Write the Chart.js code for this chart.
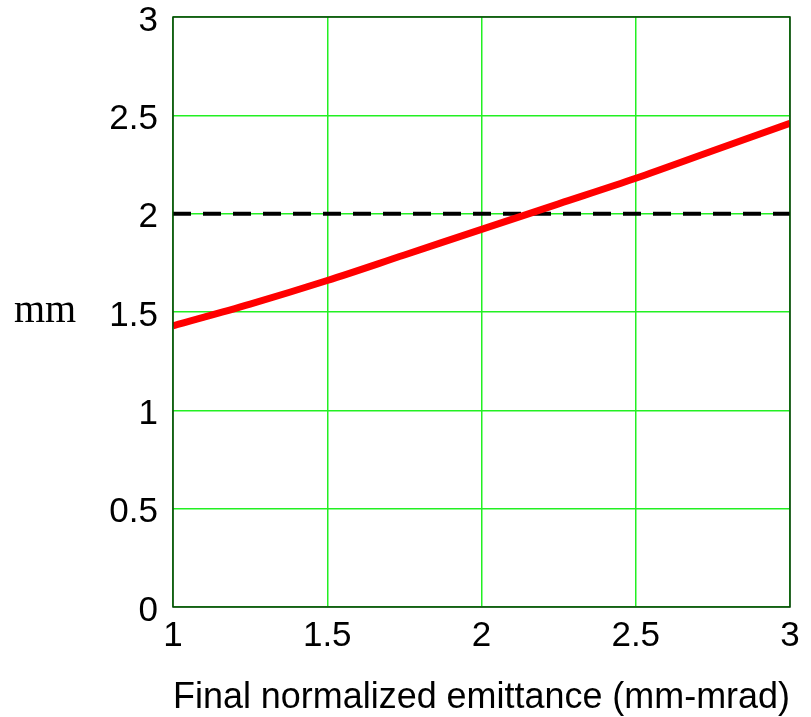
<!DOCTYPE html>
<html>
<head>
<meta charset="utf-8">
<script src="https://cdn.jsdelivr.net/npm/chart.js@4/dist/chart.umd.min.js"></script>
<style>
  html, body { margin: 0; padding: 0; background: #fff; }
  #wrap { width: 811px; height: 717px; }
</style>
</head>
<body>
<div id="wrap"><canvas id="mainChart" width="811" height="717"></canvas></div>
<script>
// beam size vs. emittance
var emittance = [1, 1.25, 1.5, 1.75, 2, 2.25, 2.5, 2.75, 3];
var beamSize = [1.43, 1.54, 1.66, 1.79, 1.92, 2.05, 2.18, 2.32, 2.46];
var limitX = [1, 3];
var limitY = [2, 2];
var xTicks = [1, 1.5, 2, 2.5, 3];
var yTicks = [0, 0.5, 1, 1.5, 2, 2.5, 3];

function pts(xs, ys) {
  var out = [];
  for (var i in xs) out.push({x: xs[i], y: ys[i]});
  return out;
}

var tickFont = {family: 'Liberation Sans, Arial, sans-serif', size: 35};
var gridGreen = '#22f022';

// frame round the plot area + the "mm" label
var framePlugin = {
  id: 'frame',
  afterDraw: function(chart) {
    var a = chart.chartArea, ctx = chart.ctx;
    ctx.save();
    ctx.strokeStyle = '#0b3a0b';
    ctx.lineWidth = 1.5;
    ctx.strokeRect(a.left, a.top, a.right - a.left, a.bottom - a.top);
    ctx.fillStyle = '#000';
    ctx.font = '40px "Liberation Serif", "Times New Roman", serif';
    ctx.textBaseline = 'alphabetic';
    ctx.fillText('mm', 14, 322);
    ctx.restore();
  }
};

function noOverhang(s) {
  s.paddingTop = 0; s.paddingBottom = 0;
  s.paddingLeft = 0; s.paddingRight = 0;
}

var chart = new Chart(document.getElementById('mainChart'), {
  type: 'line',
  data: {
    datasets: [
      {
        label: 'size',
        data: pts(emittance, beamSize),
        borderColor: '#ff0000',
        borderWidth: 7,
        pointRadius: 0,
        fill: false,
        cubicInterpolationMode: 'monotone',
        borderCapStyle: 'butt',
        order: 0
      },
      {
        label: 'limit',
        data: pts(limitX, limitY),
        borderColor: '#000000',
        borderWidth: 4,
        borderDash: [18, 12],
        pointRadius: 0,
        fill: false,
        tension: 0,
        order: 1
      }
    ]
  },
  options: {
    responsive: false,
    animation: false,
    layout: {padding: {left: 0, top: 17, right: 21, bottom: 0}},
    plugins: {legend: {display: false}, tooltip: {enabled: false}},
    scales: {
      x: {
        type: 'linear',
        min: 1, max: 3,
        afterBuildTicks: function(s) { s.ticks = xTicks.map(function(v){ return {value: v}; }); },
        afterFit: function(s) { s.height = 110; noOverhang(s); },
        ticks: {font: tickFont, color: '#000', padding: 8, maxRotation: 0,
                callback: function(v) { return String(v); }},
        grid: {color: gridGreen, lineWidth: 1.5, drawTicks: false},
        border: {display: false},
        title: {
          display: true,
          text: 'Final normalized emittance (mm-mrad)',
          font: {family: 'Liberation Sans, Arial, sans-serif', size: 36},
          color: '#000',
          padding: {top: 8, bottom: -3}
        }
      },
      y: {
        type: 'linear',
        min: 0, max: 3,
        afterBuildTicks: function(s) { s.ticks = yTicks.map(function(v){ return {value: v}; }); },
        afterFit: function(s) { s.width = 173; noOverhang(s); },
        ticks: {font: tickFont, color: '#000', padding: 15, labelOffset: 4,
                callback: function(v) { return String(v); }},
        grid: {color: gridGreen, lineWidth: 1.5, drawTicks: false},
        border: {display: false}
      }
    }
  },
  plugins: [framePlugin]
});
</script>
</body>
</html>
